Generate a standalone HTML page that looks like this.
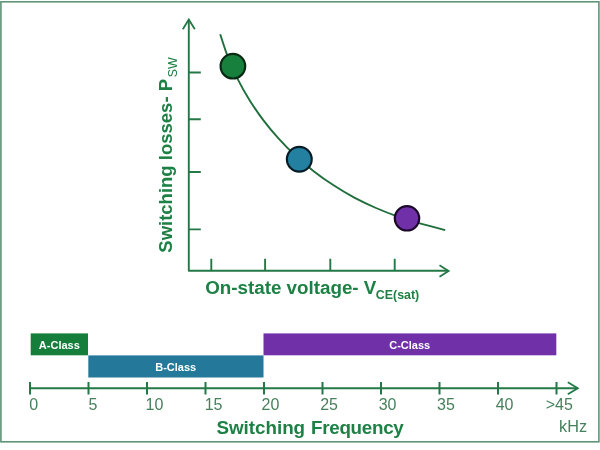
<!DOCTYPE html>
<html><head><meta charset="utf-8">
<style>
html,body{margin:0;padding:0;background:#fff;}
body{width:600px;height:450px;overflow:hidden;}
svg{display:block;}
text{font-family:"Liberation Sans",Arial,sans-serif;}
.b{font-weight:bold;fill:#1d8044;}
.n{fill:#47805c;font-size:16px;}
.w{fill:#fff;font-weight:bold;font-size:11px;text-anchor:middle;}
</style></head><body>
<svg width="600" height="450" viewBox="0 0 600 450">
<rect x="0" y="0" width="600" height="450" fill="#fff"/>
<rect x="0.9" y="1.8" width="598" height="440" fill="none" stroke="#5f9577" stroke-width="1.6"/>
<!-- axes -->
<g stroke="#237846" stroke-width="1.9" fill="none" stroke-linecap="butt" stroke-linejoin="round">
<path d="M188.8,20 V270.7 H448"/>
<path d="M188.8,72.5 H200.8 M188.8,119.2 H200.8 M188.8,172 H200.8 M188.8,229.4 H200.8"/>
<path d="M211.3,270.7 V258.7 M265.1,270.7 V258.7 M330.3,270.7 V258.7 M394.7,270.7 V258.7"/>
</g>
<g stroke="#237846" stroke-width="1.8" fill="none" stroke-linejoin="miter" stroke-miterlimit="10">
<path d="M182.8,29.3 L188.8,19.5 L194.8,29.3"/>
<path d="M439.5,265.3 L448.6,270.9 L439.5,276.7"/>
</g>
<path d="M220.2,34.2 C221.5,38.0 225.0,49.6 227.9,57.1 C230.8,64.6 234.1,71.9 237.7,79.1 C241.3,86.3 245.3,93.3 249.6,100.2 C253.8,107.0 258.4,113.6 263.3,120.1 C268.1,126.5 273.3,132.7 278.7,138.6 C284.1,144.6 289.7,150.3 295.6,155.8 C301.5,161.2 307.7,166.4 314.0,171.4 C320.3,176.3 326.9,180.9 333.6,185.3 C340.3,189.7 347.3,193.8 354.3,197.6 C361.4,201.3 368.7,204.8 376.0,208.0 C383.4,211.2 390.9,214.1 398.5,216.8 C406.1,219.4 413.8,221.7 421.6,223.8 C429.4,225.9 440.8,228.9 445.2,230.1" fill="none" stroke="#1f6e3c" stroke-width="1.9"/>
<circle cx="232.9" cy="66.2" r="12.3" fill="#17803c" stroke="#082a14" stroke-width="2.2"/>
<circle cx="299.3" cy="159.3" r="12.4" fill="#2380a0" stroke="#081c26" stroke-width="2.2"/>
<circle cx="407" cy="218.3" r="12.2" fill="#7030a8" stroke="#1a0828" stroke-width="2.2"/>
<!-- labels -->
<text class="b" x="205.2" y="294.3" font-size="18.8">On-state voltage- V<tspan font-size="12.4" dy="5" dx="-0.5">CE(sat)</tspan></text>
<text class="b" transform="translate(171.8,252.7) rotate(-90)" font-size="18.5">Switching losses- P<tspan font-size="12.5" font-weight="normal" dy="5" dx="1.6">SW</tspan></text>
<!-- bars -->
<rect x="30.7" y="333.4" width="57.3" height="21.9" fill="#167e3b"/>
<rect x="88.3" y="355.4" width="175.2" height="22.1" fill="#24799a"/>
<rect x="263.5" y="333.4" width="292.8" height="21.9" fill="#7030a8"/>
<text class="w" x="59.35" y="348.8">A-Class</text>
<text class="w" x="175.75" y="371">B-Class</text>
<text class="w" x="409.7" y="348.8">C-Class</text>
<!-- freq axis -->
<g stroke="#237846" stroke-width="2" fill="none">
<path d="M30,388.2 H577.5"/>
<path d="M30,382.1 V394.5 M88.5,382.1 V394.5 M147,382.1 V394.5 M205.5,382.1 V394.5 M264,382.1 V394.5 M322.5,382.1 V394.5 M381,382.1 V394.5 M439.5,382.1 V394.5 M498,382.1 V394.5 M556.5,382.1 V394.5"/>
</g>
<path d="M567.8,382.2 L577.8,388.2 L567.8,394.3" stroke="#237846" stroke-width="1.8" fill="none" stroke-linejoin="miter"/>
<g class="n">
<text x="29.3" y="410">0</text>
<text x="88.5" y="410">5</text>
<text x="145.5" y="410">10</text>
<text x="204.7" y="410">15</text>
<text x="261.5" y="410">20</text>
<text x="320.2" y="410">25</text>
<text x="378.7" y="410">30</text>
<text x="437.1" y="410">35</text>
<text x="495.7" y="410">40</text>
<text x="545.7" y="410">&gt;45</text>
</g>
<text class="b" x="216.4" y="434" font-size="18.8">Switching <tspan letter-spacing="-0.28" dx="0.7">Frequency</tspan></text>
<text x="559" y="431.6" font-size="16.3" fill="#47805c">kHz</text>
</svg>
</body></html>
